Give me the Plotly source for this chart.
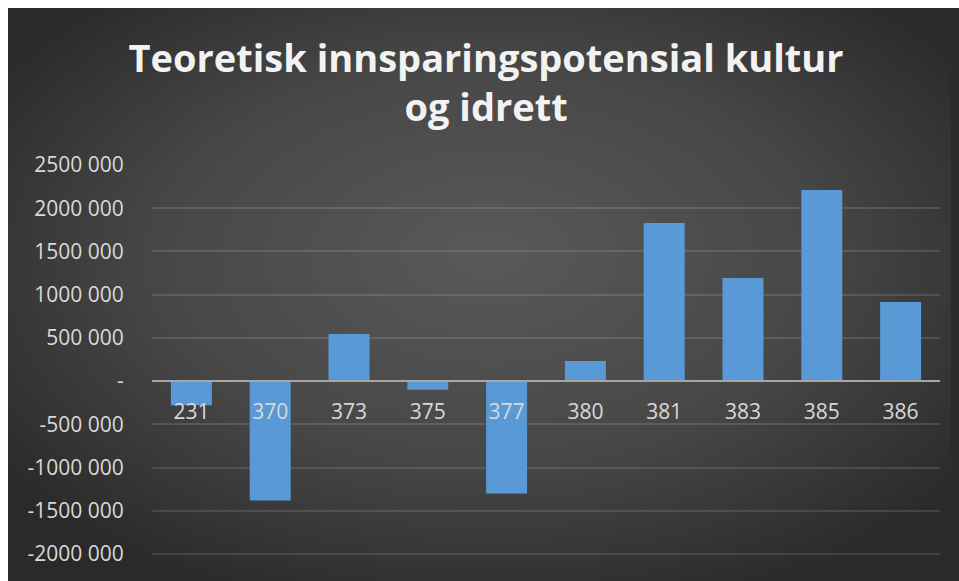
import base64
import plotly.graph_objects as go

categories = ["231", "370", "373", "375", "377", "380", "381", "383", "385", "386"]
values = [-280000, -1380000, 545000, -100000, -1300000, 232000, 1830000, 1192000, 2212000, 914000]
tick_vals = [-2000000, -1500000, -1000000, -500000, 0, 500000, 1000000, 1500000, 2000000, 2500000]
tick_text = ["-2000 000", "-1500 000", "-1000 000", "-500 000", "-", "500 000",
             "1000 000", "1500 000", "2000 000", "2500 000"]
title_text = "Teoretisk innsparingspotensial kultur<br>og idrett"

W, H = 959, 581
ml, mr, mt, mb = 144, 27, 157, 0
plot_w = W - ml - mr
plot_h = H - mt - mb
px_per_unit = 86.44 / 1e6
y_max = 2500000
y_min = y_max - plot_h / px_per_unit

svg = f'''<svg xmlns="http://www.w3.org/2000/svg" width="959" height="581" viewBox="0 0 959 581">
<defs><radialGradient id="g" cx="0.5" cy="0.45" r="0.62" fx="0.5" fy="0.42">
<stop offset="0" stop-color="#595959"/><stop offset="0.55" stop-color="#474747"/>
<stop offset="1" stop-color="#2a2a2a"/></radialGradient></defs>
<rect x="0" y="0" width="959" height="581" fill="url(#g)"/></svg>'''
src = "data:image/svg+xml;base64," + base64.b64encode(svg.encode()).decode()

fig = go.Figure()
fig.add_trace(go.Bar(
    x=categories, y=values,
    marker=dict(color="#5899d6", line=dict(width=0)),
    width=0.52,
))

fig.update_layout(
    width=W, height=H,
    margin=dict(l=ml, r=mr, t=mt, b=mb),
    paper_bgcolor="#2a2a2a",
    plot_bgcolor="rgba(0,0,0,0)",
    showlegend=False,
    font=dict(family="Open Sans", color="#d9d9d9", size=21),
    title=dict(
        text=title_text, x=0.4985, xref="container", xanchor="center",
        y=(H - 63.5) / H, yref="container", yanchor="middle",
        font=dict(family="Open Sans", size=38, color="#f2f2f2", weight="bold"),
    ),
    images=[dict(
        source=src, xref="paper", yref="paper",
        x=-ml / plot_w, y=(H - mb) / plot_h,
        sizex=W / plot_w, sizey=H / plot_h,
        xanchor="left", yanchor="top", sizing="stretch", layer="below",
    )],
    xaxis=dict(
        type="category", anchor="free",
        position=(0 - y_min) / (y_max - y_min),
        showline=True, linecolor="#a6a6a6", linewidth=2,
        showgrid=False, ticks="outside", ticklen=12, tickcolor="rgba(0,0,0,0)",
        tickfont=dict(size=21, color="#d9d9d9"),
    ),
    yaxis=dict(
        range=[y_min, y_max], tickvals=tick_vals, ticktext=tick_text,
        showgrid=True, gridcolor="rgba(255,255,255,0.12)", gridwidth=1.5,
        zeroline=False, showline=False,
        ticks="outside", ticklen=23, tickcolor="rgba(0,0,0,0)",
        tickfont=dict(size=21, color="#d9d9d9"),
    ),
)

page_js = (
    "var r=document.documentElement;"
    "r.style.overflow='hidden';document.body.style.overflow='hidden';"
    "r.style.background='linear-gradient(to right, #ffffff 8px, rgba(0,0,0,0) 8px),"
    " linear-gradient(to bottom, #ffffff 8px, #2a2a2a 8px)';"
)
fig.write_html("out.html", post_script=page_js)
